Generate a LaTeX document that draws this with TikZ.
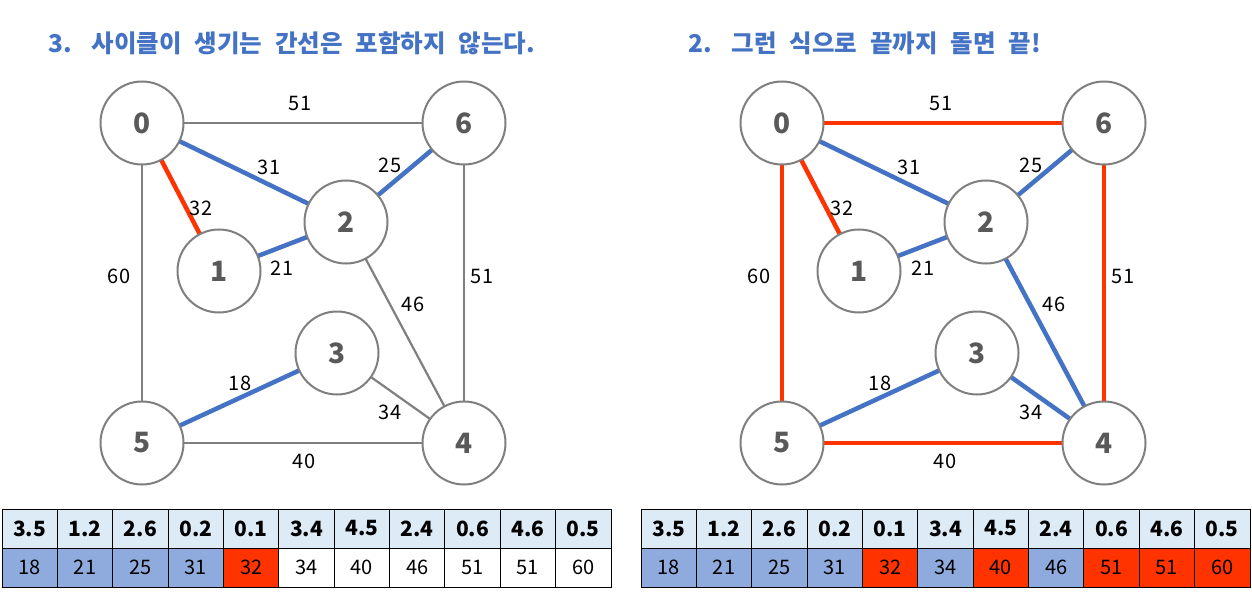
\documentclass[tikz,border=0pt]{standalone}
\usepackage{fontspec}
\setmainfont{Noto Sans CJK KR}
\newfontfamily\ttlfont[WordSpace={2.3}]{Noto Sans CJK KR}
\definecolor{vgray}{HTML}{7F7F7F}
\definecolor{eblue}{HTML}{4472C4}
\definecolor{ered}{HTML}{FF3300}
\definecolor{ntext}{HTML}{595959}
\definecolor{hfill}{HTML}{DDEBF7}
\definecolor{bfill}{HTML}{8FAADC}
\tikzset{
  vert/.style={circle, draw=vgray, line width=2pt, fill=white, minimum size=83pt, inner sep=0pt, font=\fontsize{28}{28}\selectfont\bfseries, text=ntext},
  ge/.style={draw=vgray, line width=2.2pt},
  be/.style={draw=eblue, line width=4.5pt},
  re/.style={draw=ered, line width=4.5pt},
  elab/.style={font=\fontsize{20}{20}\selectfont, inner sep=0pt, text=black},
  ttl/.style={font=\ttlfont\fontsize{24.5}{24.5}\selectfont\bfseries, text=eblue, anchor=west, inner sep=0pt},
  hcell/.style={draw=black, line width=0.8pt, fill=hfill, minimum width=55.36pt, minimum height=39pt, inner sep=0pt, font=\fontsize{21}{21}\selectfont\bfseries},
  dcell/.style={draw=black, line width=0.8pt, minimum width=55.36pt, minimum height=39pt, inner sep=0pt, font=\fontsize{20}{20}\selectfont}
}
\begin{document}
\begin{tikzpicture}[x=1pt,y=-1pt]
\useasboundingbox (0,0) rectangle (1252,596);
% titles
\node[ttl] (t1) at (48,43) {3.\hspace{20pt}사이클이 생기는 간선은 포함하지 않는다.};
\node[ttl] (t2) at (688,43) {2.\hspace{20pt}그런 식으로 끝까지 돌면 끝!};
% left graph
\begin{scope}
\coordinate (Lc0) at (142,123);
\coordinate (Lc6) at (464,123);
\coordinate (Lc2) at (346,222);
\coordinate (Lc1) at (219,271);
\coordinate (Lc3) at (337,353);
\coordinate (Lc5) at (142,443);
\coordinate (Lc4) at (464,443);
\draw[ge] (Lc0) -- (Lc6);
\draw[ge] (Lc0) -- (Lc5);
\draw[ge] (Lc6) -- (Lc4);
\draw[ge] (Lc5) -- (Lc4);
\draw[ge] (Lc2) -- (Lc4);
\draw[ge] (Lc3) -- (Lc4);
\draw[be] (Lc0) -- (Lc2);
\draw[be] (Lc2) -- (Lc6);
\draw[be] (Lc1) -- (Lc2);
\draw[be] (Lc5) -- (Lc3);
\draw[re] (Lc0) -- (Lc1);
\node[vert] (L0) at (Lc0) {0};
\node[vert] (L6) at (Lc6) {6};
\node[vert] (L2) at (Lc2) {2};
\node[vert] (L1) at (Lc1) {1};
\node[vert] (L3) at (Lc3) {3};
\node[vert] (L5) at (Lc5) {5};
\node[vert] (L4) at (Lc4) {4};
\node[elab] (Ll06) at (300,104) {51};
\node[elab] (Ll02) at (269,167) {31};
\node[elab] (Ll26) at (390,165) {25};
\node[elab] (Ll01) at (201,208) {32};
\node[elab] (Ll12) at (282,268) {21};
\node[elab] (Ll05) at (119,276) {60};
\node[elab] (Ll64) at (482,276) {51};
\node[elab] (Ll24) at (413,304) {46};
\node[elab] (Ll53) at (240,383) {18};
\node[elab] (Ll34) at (390,412) {34};
\node[elab] (Ll54) at (304,461) {40};
\end{scope}
% right graph
\begin{scope}[xshift=640pt]
\coordinate (Rc0) at (142,123);
\coordinate (Rc6) at (464,123);
\coordinate (Rc2) at (346,222);
\coordinate (Rc1) at (219,271);
\coordinate (Rc3) at (337,353);
\coordinate (Rc5) at (142,443);
\coordinate (Rc4) at (464,443);
\draw[re] (Rc0) -- (Rc6);
\draw[re] (Rc0) -- (Rc5);
\draw[re] (Rc6) -- (Rc4);
\draw[re] (Rc5) -- (Rc4);
\draw[be] (Rc2) -- (Rc4);
\draw[be] (Rc3) -- (Rc4);
\draw[be] (Rc0) -- (Rc2);
\draw[be] (Rc2) -- (Rc6);
\draw[be] (Rc1) -- (Rc2);
\draw[be] (Rc5) -- (Rc3);
\draw[re] (Rc0) -- (Rc1);
\node[vert] (R0) at (Rc0) {0};
\node[vert] (R6) at (Rc6) {6};
\node[vert] (R2) at (Rc2) {2};
\node[vert] (R1) at (Rc1) {1};
\node[vert] (R3) at (Rc3) {3};
\node[vert] (R5) at (Rc5) {5};
\node[vert] (R4) at (Rc4) {4};
\node[elab] (Rl06) at (301,104) {51};
\node[elab] (Rl02) at (269,167) {31};
\node[elab] (Rl26) at (391,165) {25};
\node[elab] (Rl01) at (202,208) {32};
\node[elab] (Rl12) at (283,268) {21};
\node[elab] (Rl05) at (119,276) {60};
\node[elab] (Rl64) at (483,276) {51};
\node[elab] (Rl24) at (414,304) {46};
\node[elab] (Rl53) at (240,383) {18};
\node[elab] (Rl34) at (391,412) {34};
\node[elab] (Rl54) at (305,461) {40};
\end{scope}
% tables
\foreach \k/\t in {0/3.5,1/1.2,2/2.6,3/0.2,4/0.1,5/3.4,6/4.5,7/2.4,8/0.6,9/4.6,10/0.5}{
  \node[hcell] (Lh\k) at ({2+27.68+55.36*\k},528.5) {\t};
  \node[hcell] (Rh\k) at ({641+27.68+55.36*\k},528.5) {\t};
}
\foreach \k/\t/\c in {0/18/bfill,1/21/bfill,2/25/bfill,3/31/bfill,4/32/ered,5/34/white,6/40/white,7/46/white,8/51/white,9/51/white,10/60/white}{
  \node[dcell, fill=\c] (Ld\k) at ({2+27.68+55.36*\k},567.5) {\t};
}
\foreach \k/\t/\c in {0/18/bfill,1/21/bfill,2/25/bfill,3/31/bfill,4/32/ered,5/34/bfill,6/40/ered,7/46/bfill,8/51/ered,9/51/ered,10/60/ered}{
  \node[dcell, fill=\c] (Rd\k) at ({641+27.68+55.36*\k},567.5) {\t};
}
\end{tikzpicture}
\end{document}
